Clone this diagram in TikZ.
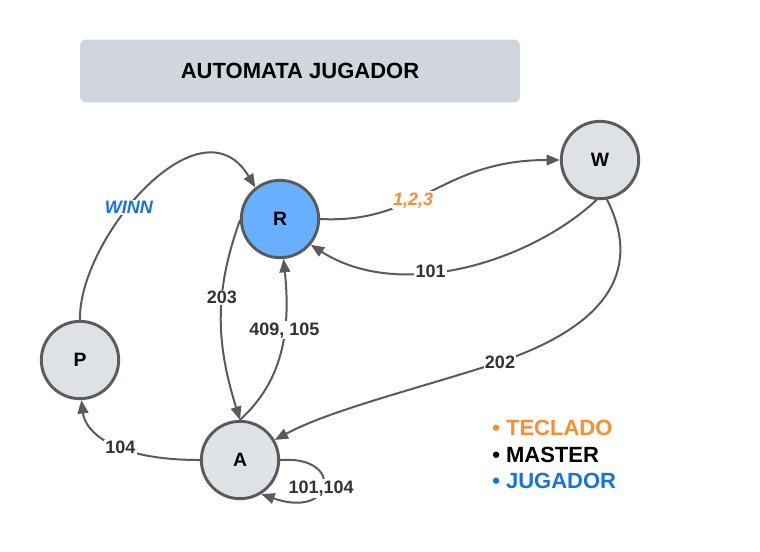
\documentclass[tikz,border=0pt]{standalone}
\usepackage{fontspec}
\setmainfont{Liberation Sans}
\usetikzlibrary{arrows.meta}
\definecolor{linea}{RGB}{90,90,90}
\definecolor{gris}{RGB}{222,225,230}
\definecolor{titulo}{RGB}{209,214,222}
\definecolor{azulR}{RGB}{104,176,255}
\definecolor{naranja}{RGB}{255,140,45}
\definecolor{azul}{RGB}{22,114,232}
\definecolor{texto}{RGB}{50,50,50}
\begin{document}
\begin{tikzpicture}[x=0.75pt,y=-0.75pt,>={Triangle[length=10pt,width=8pt]}, line join=round, line cap=round,
	estado/.style={circle,draw=linea,line width=2.2pt,fill=gris,minimum size=58pt,inner sep=0pt,font=\fontsize{14.5}{16}\selectfont\bfseries},
	flecha/.style={->,draw=linea,line width=1.5pt},
	etiqueta/.style={fill=white,inner sep=1pt,text=texto,font=\fontsize{13.5}{15}\selectfont\bfseries},
	leyenda/.style={anchor=west,inner sep=0pt,font=\fontsize{16.5}{18}\selectfont\bfseries}]
	\useasboundingbox (0,0) rectangle (760,551);
	% titulo
	\node[fill=titulo,rounded corners=4pt,minimum width=330pt,minimum height=47pt,font=\fontsize{16.5}{18}\selectfont\bfseries] (titulo) at (300,71) {AUTOMATA JUGADOR};
	% estados
	\node[estado,fill=azulR] (R) at (280,219) {R};
	\node[estado] (W) at (600,160) {W};
	\node[estado] (P) at (80,360) {P};
	\node[estado] (A) at (240,460) {A};
	% transiciones
	\draw[flecha] (P.north) .. controls (78,240) and (200,95) .. (R.128) node[etiqueta,pos=0.42,text=azul,font=\fontsize{13.5}{15}\selectfont\bfseries\itshape]{WINN};
	\draw[flecha] (R.east) .. controls (420,224) and (440,160) .. (W.west) node[etiqueta,pos=0.4,text=naranja,font=\fontsize{13.5}{15}\selectfont\bfseries\itshape]{1,2,3};
	\draw[flecha] (W.265) .. controls (530,262) and (400,302) .. (R.-40) node[etiqueta,pos=0.6]{101};
	\draw[flecha] (W.-80) .. controls (645,275) and (600,328) .. (500,362) node[etiqueta]{202} .. controls (420,388) and (330,410) .. (A.30);
	\draw[flecha] (R.182) .. controls (215,290) and (215,340) .. (A.north) node[etiqueta,pos=0.4]{203};
	\draw[flecha] (A.north) .. controls (278,385) and (292,340) .. (R.-85) node[etiqueta,pos=0.66]{409, 105};
	\draw[flecha] (A.west) .. controls (110,460) and (85,430) .. (P.-88) node[etiqueta,pos=0.4]{104};
	\draw[flecha] (A.east) .. controls (345,455) and (335,520) .. (A.-58) node[etiqueta,pos=0.55]{101,104};
	% leyenda
	\node[leyenda,text=naranja] (teclado) at (492,428) {\textbullet\ TECLADO};
	\node[leyenda,text=black] (master) at (492,455) {\textbullet\ MASTER};
	\node[leyenda,text=azul] (jugador) at (492,481) {\textbullet\ JUGADOR};
\end{tikzpicture}
\end{document}
